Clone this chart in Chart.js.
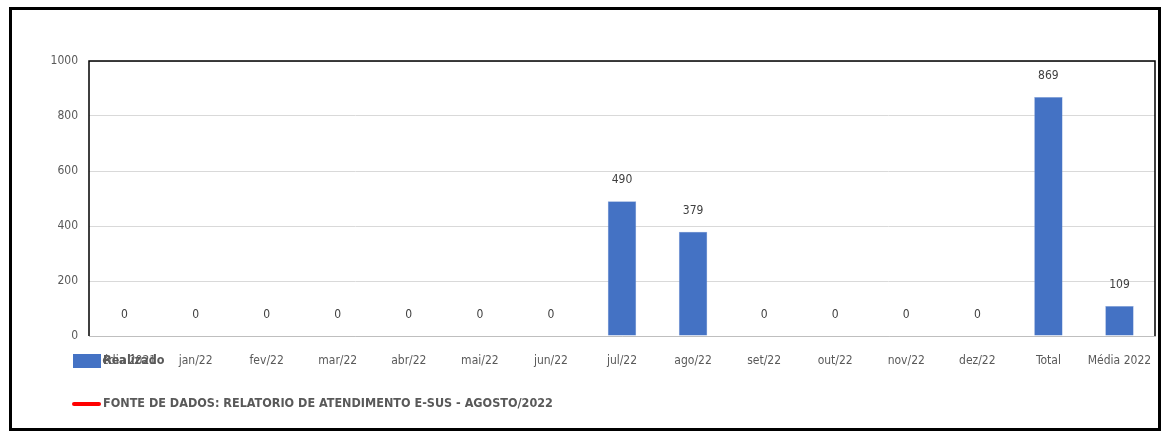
<!DOCTYPE html>
<html>
<head>
<meta charset="utf-8">
<script src="https://cdn.jsdelivr.net/npm/chart.js@4"></script>
<style>
  body { margin: 0; background: #fff; }
  #wrap { position: relative; width: 1162px; height: 432px; }
  #myChart { position: absolute; left: 0; top: 0; }
  #frame {
    position: absolute; left: 9px; top: 7px; width: 1152px; height: 424px;
    box-sizing: border-box; border: 3px solid #000; pointer-events: none;
  }
</style>
</head>
<body>
<div id="wrap">
  <canvas id="myChart" width="1162" height="432"></canvas>
  <div id="frame"></div>
</div>
<script>
// chart data
const categories = ['Média 2021', 'jan/22', 'fev/22', 'mar/22', 'abr/22', 'mai/22', 'jun/22',
  'jul/22', 'ago/22', 'set/22', 'out/22', 'nov/22', 'dez/22', 'Total', 'Média 2022'];
const realizado = [0, 0, 0, 0, 0, 0, 0, 490, 379, 0, 0, 0, 0, 869, 109];
const fonteLabel = 'FONTE DE DADOS: RELATORIO DE ATENDIMENTO E-SUS - AGOSTO/2022';
const fonteValues = [];
const yTicks = [0, 200, 400, 600, 800, 1000];

const FONT = "'Liberation Sans Narrow', 'DejaVu Sans Condensed', sans-serif";
const TEXT = '#595959';

// value labels above bars
const valueLabels = {
  id: 'valueLabels',
  afterDatasetsDraw(chart) {
    const ctx = chart.ctx;
    const meta = chart.getDatasetMeta(0);
    ctx.save();
    ctx.font = '12px ' + FONT;
    ctx.fillStyle = '#404040';
    ctx.textAlign = 'center';
    ctx.textBaseline = 'middle';
    meta.data.forEach((bar, i) => {
      ctx.fillText(String(chart.data.datasets[0].data[i]), bar.x, bar.y - 21);
    });
    ctx.restore();
  }
};

// black frame round the plot area
const plotFrame = {
  id: 'plotFrame',
  afterDraw(chart) {
    const { left, top, right, bottom } = chart.chartArea;
    const ctx = chart.ctx;
    ctx.save();
    ctx.strokeStyle = '#000';
    ctx.lineWidth = 1.5;
    ctx.beginPath();
    ctx.moveTo(left, bottom);
    ctx.lineTo(left, top);
    ctx.lineTo(right, top);
    ctx.lineTo(right, bottom);
    ctx.stroke();
    ctx.restore();
  }
};

// legend drawn in the lower left, as in the sheet
const sheetLegend = {
  id: 'sheetLegend',
  afterDraw(chart) {
    const ctx = chart.ctx;
    const ds = chart.data.datasets;
    ctx.save();
    ctx.font = 'bold 12.5px ' + FONT;
    ctx.textBaseline = 'middle';
    ctx.fillStyle = ds[0].backgroundColor;
    ctx.fillRect(73, 354, 28, 14);
    ctx.fillStyle = TEXT;
    ctx.fillText(ds[0].label, 103, 361);

    ctx.strokeStyle = ds[1].borderColor;
    ctx.lineWidth = 4;
    ctx.lineCap = 'round';
    ctx.beginPath();
    ctx.moveTo(74, 404);
    ctx.lineTo(99, 404);
    ctx.stroke();
    ctx.fillText(ds[1].label, 103, 404);
    ctx.restore();
  }
};

new Chart(document.getElementById('myChart').getContext('2d'), {
  type: 'bar',
  data: {
    labels: categories,
    datasets: [
      {
        label: 'Realizado',
        data: realizado,
        backgroundColor: '#4472C4',
        borderColor: '#8EA9DB',
        borderWidth: 0.5,
        barPercentage: 0.4,
        categoryPercentage: 1
      },
      {
        type: 'line',
        label: fonteLabel,
        data: fonteValues,
        borderColor: '#FF0000',
        backgroundColor: '#FF0000'
      }
    ]
  },
  options: {
    responsive: false,
    animation: false,
    layout: { padding: { left: 0, right: 7, top: 61, bottom: 0 } },
    plugins: {
      legend: { display: false },
      tooltip: { enabled: false }
    },
    scales: {
      x: {
        grid: { display: false, drawTicks: false },
        border: { color: '#BFBFBF', width: 1 },
        ticks: { color: TEXT, font: { family: FONT, size: 12 }, padding: 18, maxRotation: 0, autoSkip: false },
        afterFit(scale) { scale.height = 96; scale.paddingRight = 0; scale.paddingLeft = 0; }
      },
      y: {
        min: 0,
        max: 1000,
        afterBuildTicks(scale) { scale.ticks = yTicks.map(v => ({ value: v })); },
        grid: { color: '#D9D9D9', drawTicks: false },
        border: { display: false },
        ticks: { color: TEXT, font: { family: FONT, size: 12 }, padding: 11, callback: v => String(v) },
        afterFit(scale) { scale.width = 89; }
      }
    }
  },
  plugins: [valueLabels, plotFrame, sheetLegend]
});
</script>
</body>
</html>
